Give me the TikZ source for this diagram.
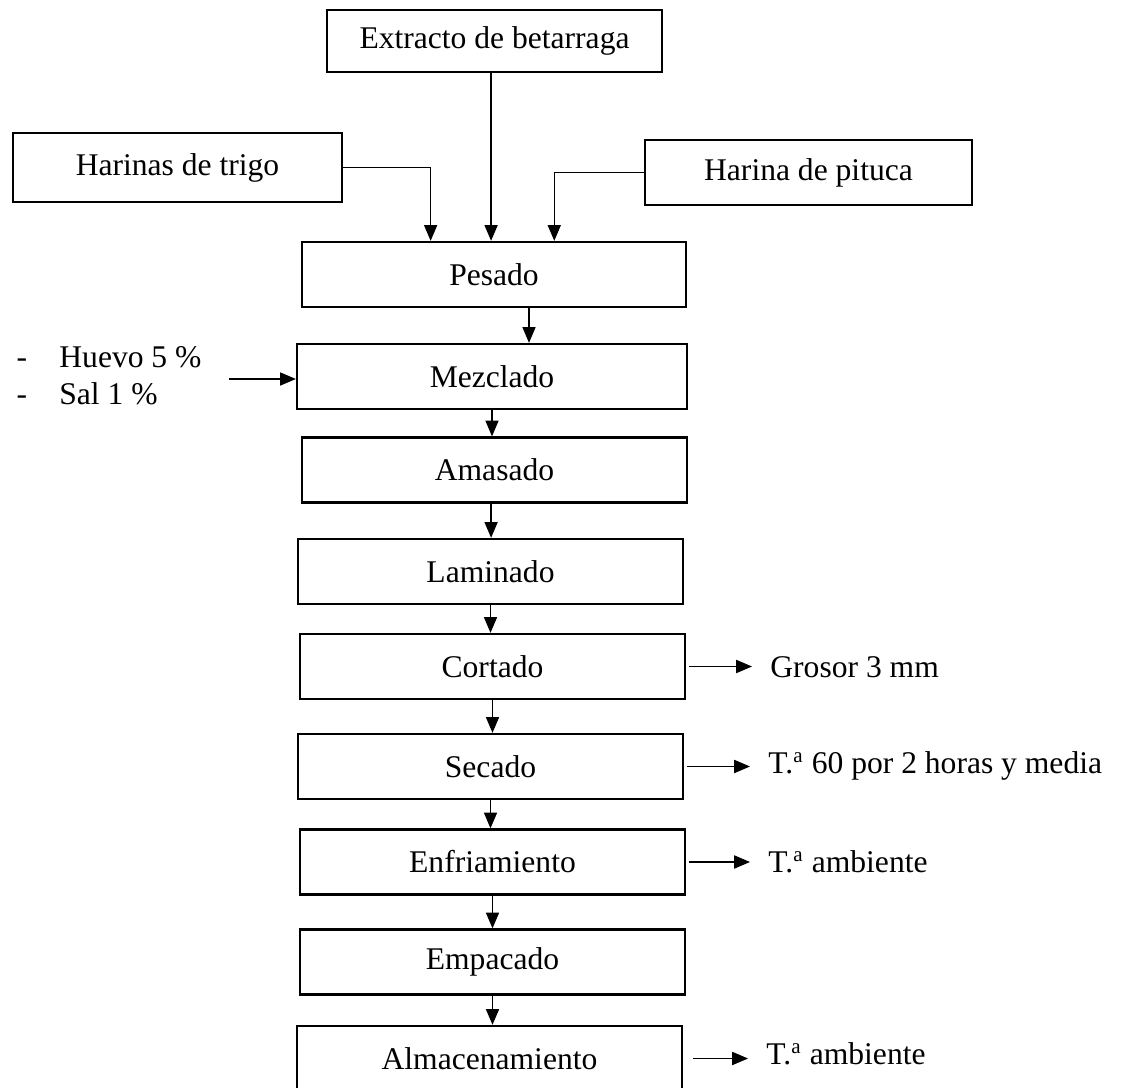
\documentclass[tikz,border=0pt]{standalone}
\usepackage{fontspec}
\setmainfont{Liberation Serif}
\usetikzlibrary{arrows.meta, positioning, calc}

\begin{document}
\begin{tikzpicture}[
		x=0.38pt, y=-0.38pt,
		style1/.style={
				draw, line width=0.9pt,
				minimum width=#1*0.38pt, minimum height=65*0.38pt,
				inner sep=0pt, font=\fontsize{12}{14}\selectfont
			},
		style1/.default=385,
		style2/.style={anchor=west, inner sep=0pt, align=left, font=\fontsize{12}{14}\selectfont},
		style3/.style={-{Triangle[length=6pt,width=5pt]}, line width=0.45pt},
		style4/.style={style2, inner xsep=6.8pt}
	]
		\useasboundingbox (0,0) rectangle (1124,1088);

		\node[style1=335, minimum height=62*0.38pt] (1ext) at (494.5,41) {Extracto de betarraga};
		\node[style1=329, minimum height=69*0.38pt] (2tri) at (177.5,167.5) {Harinas de trigo};
		\node[style1=327] (3pit) at (808.5,172.5) {Harina de pituca};

		\node[style1=384] (4pes) at (494,274.5) {Pesado};
		\node[style1=390] (5mez) at (492,376.5) {Mezclado};
		\node[style1] (6ama) at (494.5,470) {Amasado};
		\node[style1] (7lam) at (490.5,571.5) {Laminado};
		\node[style1] (8cor) at (492.5,666.5) {Cortado};
		\node[style1] (9sec) at (490.5,766.5) {Secado};
		\node[style1] (10enf) at (492.5,862) {Enfriamiento};
		\node[style1] (11emp) at (492.5,962) {Empacado};
		\node[style1] (12alm) at (489.5,1058.5) {Almacenamiento};

		\node[style2] (13ins) at (16,375.5) {\makebox[16.3pt][l]{-}Huevo 5 \%\\ \makebox[16.3pt][l]{-}Sal 1 \%};
		\coordinate (c1) at (229,379);

		\node[style4] (14gro) at (752,667) {Grosor 3 mm};
		\node[style4] (15tem) at (750,766) {T.\textsuperscript{a} 60 por 2 horas y media};
		\node[style4] (16amb) at (750,862) {T.\textsuperscript{a} ambiente};
		\node[style4] (17amb) at (748,1054) {T.\textsuperscript{a} ambiente};

		\draw[style3] (2tri.east) -| ($(4pes.north west)!0.336!(4pes.north east)$);
		\draw[style3] ([xshift=-1.3pt]1ext.south) -- ([xshift=-1.3pt]1ext.south |- 4pes.north);
		\draw[style3] (3pit.west) -| ($(4pes.north west)!0.656!(4pes.north east)$);

		\draw[style3] ([xshift=13.3pt]4pes.south) -- ([xshift=13.3pt]4pes.south |- 5mez.north);
		\draw[style3] (c1) -- (c1 -| 5mez.west);
		\draw[style3] (5mez.south) -- (5mez.south |- 6ama.north);
		\draw[style3] ([xshift=-1.3pt]6ama.south) -- ([xshift=-1.3pt]6ama.south |- 7lam.north);
		\draw[style3] (7lam.south) -- (7lam.south |- 8cor.north);
		\draw[style3] (8cor.south) -- (8cor.south |- 9sec.north);
		\draw[style3] (9sec.south) -- (9sec.south |- 10enf.north);
		\draw[style3] (10enf.south) -- (10enf.south |- 11emp.north);
		\draw[style3] (11emp.south) -- (11emp.south |- 12alm.north);

		\draw[style3] ([xshift=1.2pt]8cor.east) -- (8cor.east -| 14gro.west);
		\draw[style3] ([xshift=1pt]9sec.east) -- (9sec.east -| 15tem.west);
		\draw[style3] ([xshift=1.2pt]10enf.east) -- (10enf.east -| 16amb.west);
		\draw[style3] ([xshift=3.8pt]12alm.east) -- (12alm.east -| 17amb.west);
	\end{tikzpicture}
\end{document}
